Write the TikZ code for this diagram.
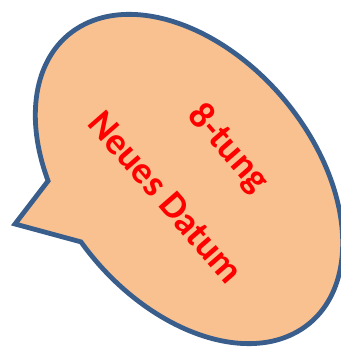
\documentclass[tikz,border=0pt]{standalone}
\usepackage{fontspec}
\setmainfont{Carlito}
\definecolor{bubblefill}{HTML}{F9C18F}
\definecolor{bubbleline}{HTML}{3A5E8C}
\definecolor{textred}{HTML}{FF0000}
\tikzset{
  bubble/.style={draw=bubbleline, fill=bubblefill, line width=4.8pt, line join=miter},
  bubbletext/.style={text=textred, font=\fontsize{38}{40}\selectfont\bfseries, rotate=-49, inner sep=0pt}
}
\begin{document}
\begin{tikzpicture}[x=1pt,y=1pt]
\useasboundingbox (0,0) rectangle (340,347);
\coordinate (tip) at (15,123);
\begin{scope}[shift={(189,168)}, rotate=-50]
  \coordinate (ns) at (241.7:188pt and 124pt);
  \coordinate (ne) at (263.5:188pt and 124pt);
  \draw[bubble] (ne) arc[start angle=263.5, end angle=601.7, x radius=188pt, y radius=124pt] -- (tip) -- cycle;
\end{scope}
\node[bubbletext] (t1) at (228,198) {8-tung};
\node[bubbletext] (t2) at (166,150) {Neues Datum};
\end{tikzpicture}
\end{document}
